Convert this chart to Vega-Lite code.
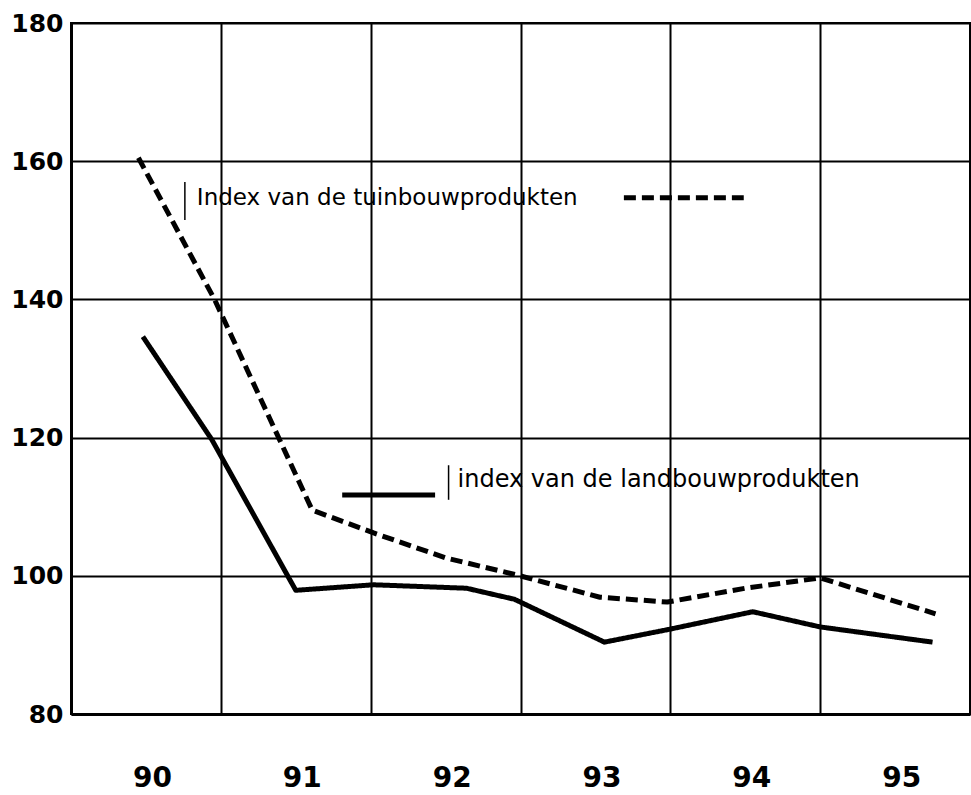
{
  "$schema": "https://vega.github.io/schema/vega-lite/v6.json",
  "width": 899,
  "height": 691,
  "autosize": {"type": "none"},
  "padding": {"left": 71, "top": 23, "right": 1, "bottom": 81},
  "background": "white",
  "config": {
    "view": {"stroke": "black", "strokeWidth": 2},
    "axis": {"gridColor": "black", "gridOpacity": 1, "domainColor": "black", "labelColor": "black", "labelFont": "DejaVu Sans", "labelFontWeight": "bold"}
  },
  "datasets": {
    "series": [
      {"year": 90.45, "value": 160.5, "series": "tuinbouw"},
      {"year": 90.96, "value": 139.9, "series": "tuinbouw"},
      {"year": 91.61, "value": 109.5, "series": "tuinbouw"},
      {"year": 92.02, "value": 106.2, "series": "tuinbouw"},
      {"year": 92.5, "value": 102.6, "series": "tuinbouw"},
      {"year": 92.98, "value": 100.1, "series": "tuinbouw"},
      {"year": 93.53, "value": 96.9, "series": "tuinbouw"},
      {"year": 93.98, "value": 96.2, "series": "tuinbouw"},
      {"year": 94.5, "value": 98.2, "series": "tuinbouw"},
      {"year": 95.0, "value": 99.7, "series": "tuinbouw"},
      {"year": 95.77, "value": 94.5, "series": "tuinbouw"},
      {"year": 90.48, "value": 134.6, "series": "landbouw"},
      {"year": 90.94, "value": 119.7, "series": "landbouw"},
      {"year": 91.5, "value": 97.9, "series": "landbouw"},
      {"year": 92.02, "value": 98.7, "series": "landbouw"},
      {"year": 92.64, "value": 98.2, "series": "landbouw"},
      {"year": 92.96, "value": 96.6, "series": "landbouw"},
      {"year": 93.56, "value": 90.4, "series": "landbouw"},
      {"year": 93.98, "value": 92.2, "series": "landbouw"},
      {"year": 94.55, "value": 94.8, "series": "landbouw"},
      {"year": 95.0, "value": 92.6, "series": "landbouw"},
      {"year": 95.75, "value": 90.4, "series": "landbouw"}
    ],
    "legendSamples": [
      {"series": "tuinbouw", "x1": 93.69, "x2": 94.49, "y": 154.7},
      {"series": "landbouw", "x1": 91.81, "x2": 92.43, "y": 111.7}
    ],
    "legendText": [
      {"label": "Index van de tuinbouwprodukten", "x": 90.84, "y": 154.7, "size": 23},
      {"label": "index van de landbouwprodukten", "x": 92.58, "y": 113.9, "size": 24}
    ],
    "legendBars": [
      {"x": 90.76, "y1": 157.0, "y2": 151.5},
      {"x": 92.52, "y1": 116.0, "y2": 111.0}
    ]
  },
  "layer": [
    {
      "data": {"name": "series"},
      "mark": {"type": "line", "stroke": "black", "strokeWidth": 5, "strokeJoin": "round"},
      "encoding": {
        "x": {
          "field": "year", "type": "quantitative",
          "scale": {"domain": [90, 96], "nice": false, "zero": false},
          "axis": {
            "title": null, "values": [90, 91, 92, 93, 94, 95], "format": "d",
            "grid": true, "gridWidth": 2, "ticks": false, "domainWidth": 3,
            "labelOffset": 81, "labelFlush": false, "labelPadding": 50,
            "labelFontSize": 28
          }
        },
        "y": {
          "field": "value", "type": "quantitative",
          "scale": {"domain": [80, 180], "nice": false, "zero": false},
          "axis": {
            "title": null, "values": [80, 100, 120, 140, 160, 180],
            "grid": true, "gridWidth": 2, "ticks": false, "domainWidth": 3,
            "labelPadding": 8, "labelFontSize": 25
          }
        },
        "strokeDash": {
          "field": "series", "type": "nominal",
          "scale": {"domain": ["landbouw", "tuinbouw"], "range": [[1, 0], [12, 6]]},
          "legend": null
        }
      }
    },
    {
      "data": {"name": "legendSamples"},
      "mark": {"type": "rule", "stroke": "black", "strokeWidth": 5},
      "encoding": {
        "x": {"field": "x1", "type": "quantitative"},
        "x2": {"field": "x2"},
        "y": {"field": "y", "type": "quantitative"},
        "strokeDash": {"field": "series", "type": "nominal", "legend": null}
      }
    },
    {
      "data": {"name": "legendBars"},
      "mark": {"type": "rule", "stroke": "black", "strokeWidth": 1.5},
      "encoding": {
        "x": {"field": "x", "type": "quantitative"},
        "y": {"field": "y1", "type": "quantitative"},
        "y2": {"field": "y2"}
      }
    },
    {
      "data": {"name": "legendText"},
      "mark": {"type": "text", "align": "left", "baseline": "middle", "font": "DejaVu Sans", "color": "black"},
      "encoding": {
        "x": {"field": "x", "type": "quantitative"},
        "y": {"field": "y", "type": "quantitative"},
        "text": {"field": "label"},
        "size": {"field": "size", "type": "quantitative", "scale": null}
      }
    }
  ]
}
